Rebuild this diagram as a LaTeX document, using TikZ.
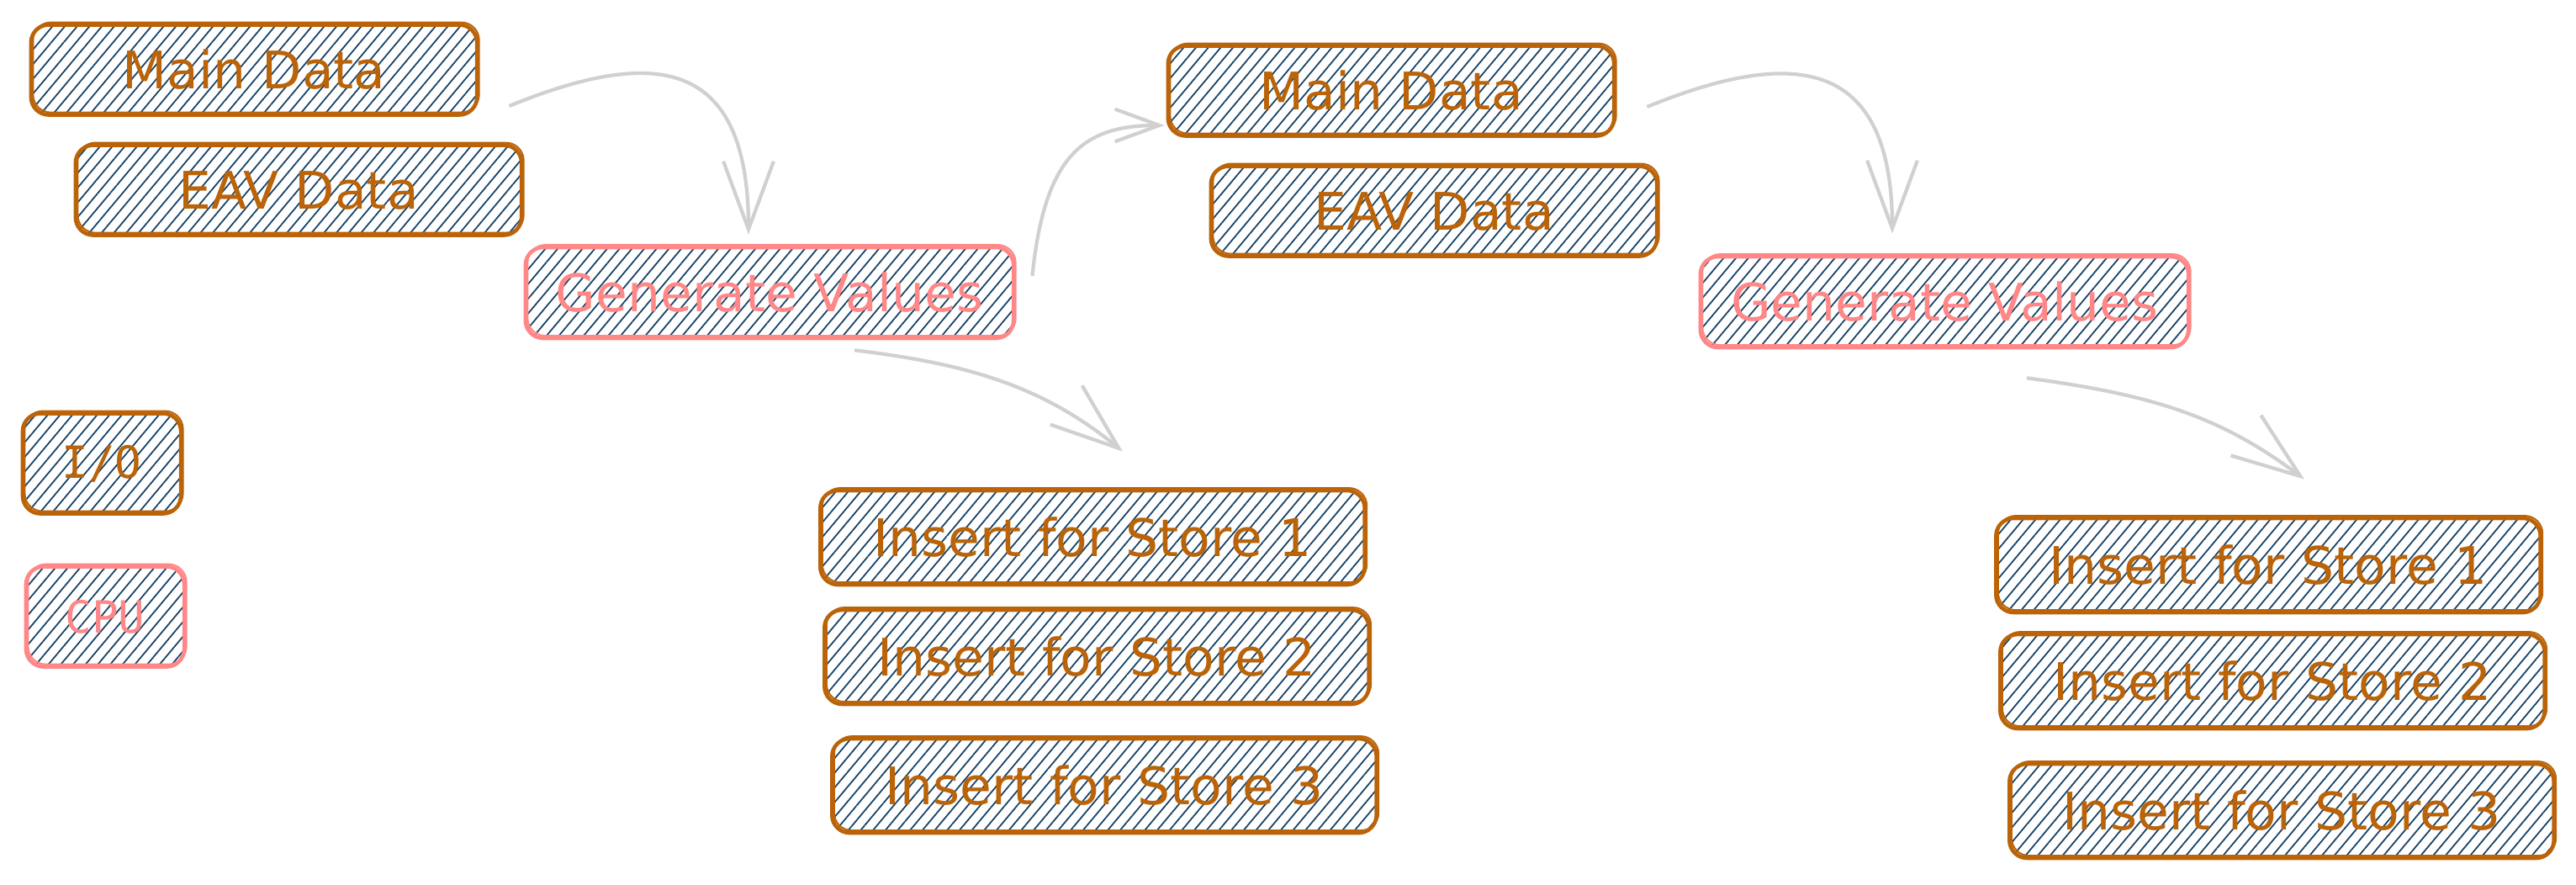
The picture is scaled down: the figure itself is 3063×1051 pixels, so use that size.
\documentclass[tikz,border=0pt]{standalone}
\usepackage{fontspec}
\setmainfont{DejaVu Sans}
\newfontfamily\monofont{DejaVu Sans Mono}
\usetikzlibrary{arrows.meta,patterns.meta,positioning}

\definecolor{rust}{RGB}{186,99,8}
\definecolor{salmon}{HTML}{FF8787}
\definecolor{ink}{HTML}{164266}
\definecolor{wire}{HTML}{D0D0D0}

\tikzset{
  task/.style={rounded corners=6pt, line width=1.3pt, inner sep=0pt,
    pattern={Lines[angle=50,distance=3.2pt,line width=0.5pt]}, pattern color=ink,
    font=\fontsize{17.5}{20}\selectfont,
    postaction={draw, line width=0.6pt, transform canvas={shift={(0.7pt,0.8pt)}}}},
  iobox/.style={task, draw=rust, text=rust},
  cpubox/.style={task, draw=salmon, text=salmon},
  legend/.style={font=\monofont\fontsize{15}{17}\selectfont, minimum width=1.88cm, minimum height=1.19cm},
  databox/.style={minimum width=5.3cm, minimum height=1.07cm},
  genbox/.style={minimum width=5.8cm, minimum height=1.08cm},
  storebox/.style={minimum width=6.47cm, minimum height=1.12cm},
  flow/.style={draw=wire, line width=1.2pt, ->}
}

\begin{document}
\begin{tikzpicture}[>={Straight Barb[length=23pt,width=17pt]},x=0.01cm,y=-0.01cm]
\useasboundingbox (0,0) rectangle (3063,1051);

% legend
\node[iobox, legend] (io) at (121,551) {I/O};
\node[cpubox, legend] (cpu) at (125,733) {CPU};

% first pass
\node[iobox, databox] (main1) at (302,83) {Main Data};
\node[iobox, databox] (eav1) at (355,226) {EAV Data};
\node[cpubox, genbox] (gen1) at (915,348) {Generate Values};
\node[iobox, storebox] (ins11) at (1299,639) {Insert for Store 1};
\node[iobox, storebox] (ins12) at (1304,781) {Insert for Store 2};
\node[iobox, storebox] (ins13) at (1313,934) {Insert for Store 3};

% second pass
\node[iobox, databox] (main2) at (1654,108) {Main Data};
\node[iobox, databox] (eav2) at (1705,251) {EAV Data};
\node[cpubox, genbox] (gen2) at (2312,359) {Generate Values};
\node[iobox, storebox] (ins21) at (2697,672) {Insert for Store 1};
\node[iobox, storebox] (ins22) at (2702,810) {Insert for Store 2};
\node[iobox, storebox] (ins23) at (2713,964) {Insert for Store 3};

\draw[flow] ([shift={(36,43)}]main1.east) .. controls +(174,-71) and +(0,-210) .. ([shift={(-25,-13)}]gen1.north);
\draw[flow, >={Straight Barb[length=15pt,width=11pt]}] ([shift={(20,-20)}]gen1.east) .. controls +(15,-148) and +(-93,0) .. ([shift={(-2,41)}]main2.west);
\draw[flow] ([shift={(101,12)}]gen1.south) .. controls +(134,16) and +(-95,-78) .. ([shift={(36,-44)}]ins11.north);
\draw[flow] ([shift={(37,19)}]main2.east) .. controls +(174,-71) and +(0,-210) .. ([shift={(-62,-25)}]gen2.north);
\draw[flow] ([shift={(98,34)}]gen2.south) .. controls +(150,20) and +(-100,-75) .. ([shift={(43,-44)}]ins21.north);
\end{tikzpicture}
\end{document}
